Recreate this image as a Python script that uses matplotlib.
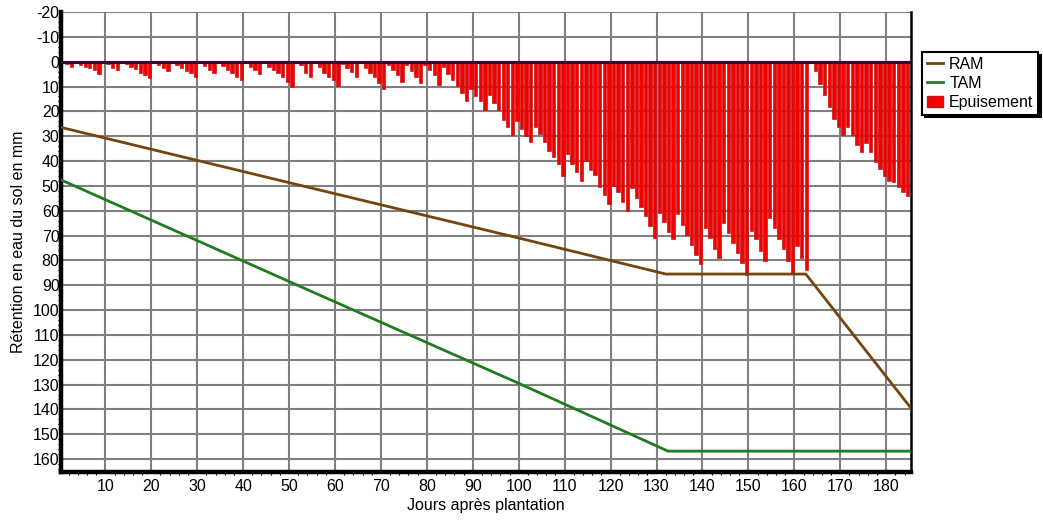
import numpy as np
import matplotlib
matplotlib.use('Agg')
import matplotlib.pyplot as plt
from matplotlib.lines import Line2D
from matplotlib.patches import Patch
from matplotlib.ticker import MultipleLocator

plt.rcParams['font.family'] = ['Liberation Sans', 'DejaVu Sans']
plt.rcParams['axes.unicode_minus'] = False

# daily depletion (mm), days 1..185
days = list(range(1, 186))
epuisement = [
  1, 2, 0, 1.3, 2, 2.7, 3.5, 5, 0, 1,
  2.7, 3.5, 0, 1, 2, 3, 4.4, 5.5, 6.5, 0,
  1.3, 2.7, 3.6, 0, 1.3, 2.7, 3.6, 4.4, 6, 0,
  1.7, 3.5, 4.4, 0, 1.7, 3.5, 4.4, 6, 7.5, 0,
  2, 3.5, 5, 0, 2, 3.5, 4.4, 6, 8, 10,
  0, 1.5, 4.5, 6, 0, 2, 4.7, 6, 7.4, 9.7,
  1, 2.4, 4.2, 6.2, 0, 2.4, 4.4, 6.3, 8.4, 10.8,
  1.5, 3.3, 5.4, 8, 1.3, 3.8, 6.2, 8.6, 1.5, 3.5,
  5.5, 9.5, 2.2, 4.8, 7.3, 9.6, 12.7, 16, 11, 13.7,
  16, 19.5, 13.5, 16.5, 19.6, 23.6, 26.3, 29.7, 24, 27,
  30, 32.5, 26.3, 29, 32.5, 35.8, 38.2, 41, 46, 37.3,
  41, 44.5, 48, 40, 43.5, 45.5, 50.3, 53.7, 57.3, 50,
  52.6, 56.4, 60, 51, 55, 58.5, 62, 66.1, 70.8, 61,
  64.5, 68.5, 71.5, 61.3, 65.7, 69.7, 74, 78, 81.6, 67,
  70.8, 75.6, 79, 64.8, 68.8, 72.9, 76.9, 81, 85.7, 68.2,
  71.5, 76.2, 80.3, 62.8, 66.8, 71.3, 75.6, 80.3, 85, 74.2,
  79, 83.7, 0, 3.8, 8.8, 13.5, 18.2, 23, 26.3, 29.7,
  26.3, 29.7, 33.5, 36.4, 32.7, 36.4, 40.2, 43.2, 45.9, 47.9,
  48.3, 50.6, 52.6, 54, 0,
]

# RAM / TAM read at their break points
ram_days = [0, 50, 100, 132, 162.5, 185.4]
ram_vals = [26.3, 48.7, 71.0, 85.5, 85.5, 139.5]
tam_days = [0, 50, 100, 132.5, 185.4]
tam_vals = [47.3, 88.5, 129.5, 156.8, 156.8]

xticks = list(range(10, 181, 10))
yticks = list(range(-20, 161, 10))

def main():
  fig = plt.figure(figsize=(10.43, 5.25), dpi=100)
  ax = fig.add_axes([61 / 1043, 1 - 472 / 525, (911 - 61) / 1043, (472 - 12) / 525])

  ax.set_xlim(0.35, 185.4)
  ax.set_ylim(165.2, -20)
  ax.set_xticks(xticks)
  ax.set_yticks(yticks)
  ax.xaxis.set_minor_locator(MultipleLocator(2))
  ax.yaxis.set_minor_locator(MultipleLocator(2))
  ax.grid(True, which='major', color='#808080', lw=1.5)
  ax.set_axisbelow(True)

  ax.bar(np.array(days) + 0.25, epuisement, width=0.74, align='edge',
         color='#f40000', edgecolor='#c81414', linewidth=0.5, zorder=2)
  ax.axhline(0, color='#3a0a2e', lw=2.2, zorder=3)
  ax.plot(ram_days, ram_vals, color='#74450f', lw=2, zorder=4)
  ax.plot(tam_days, tam_vals, color='#1f7d1f', lw=2, zorder=4)

  ax.spines['top'].set_visible(False)
  ax.spines['left'].set_linewidth(3.2)
  ax.spines['bottom'].set_linewidth(3.2)
  ax.spines['right'].set_linewidth(1.8)

  ax.tick_params(which='major', length=0, labelsize=11.5, colors='black')
  ax.tick_params(axis='x', which='major', pad=5)
  ax.tick_params(axis='y', which='major', pad=1)
  ax.tick_params(which='minor', length=2, width=0.8, direction='out')

  ax.set_xlabel('Jours après plantation', fontsize=11.5, labelpad=3)
  ax.set_ylabel('Rétention en eau du sol en mm', fontsize=11.5, labelpad=5)

  handles = [
    Line2D([], [], color='#74450f', lw=2),
    Line2D([], [], color='#1f7d1f', lw=2),
    Patch(facecolor='#f40000', edgecolor='#c81414'),
  ]
  leg = fig.legend(handles, ['RAM', 'TAM', 'Epuisement'], loc='upper left',
                   bbox_to_anchor=(922 / 1043, 1 - 52 / 525), frameon=True,
                   fancybox=False, shadow={'color': 'black', 'alpha': 1},
                   edgecolor='black', fontsize=11.5, borderpad=0.3,
                   handlelength=1.0, handletextpad=0.4, labelspacing=0.25,
                   borderaxespad=0)
  leg.get_frame().set_linewidth(1.5)

  fig.savefig('out.png', dpi=100)

if __name__ == "__main__":
  main()
